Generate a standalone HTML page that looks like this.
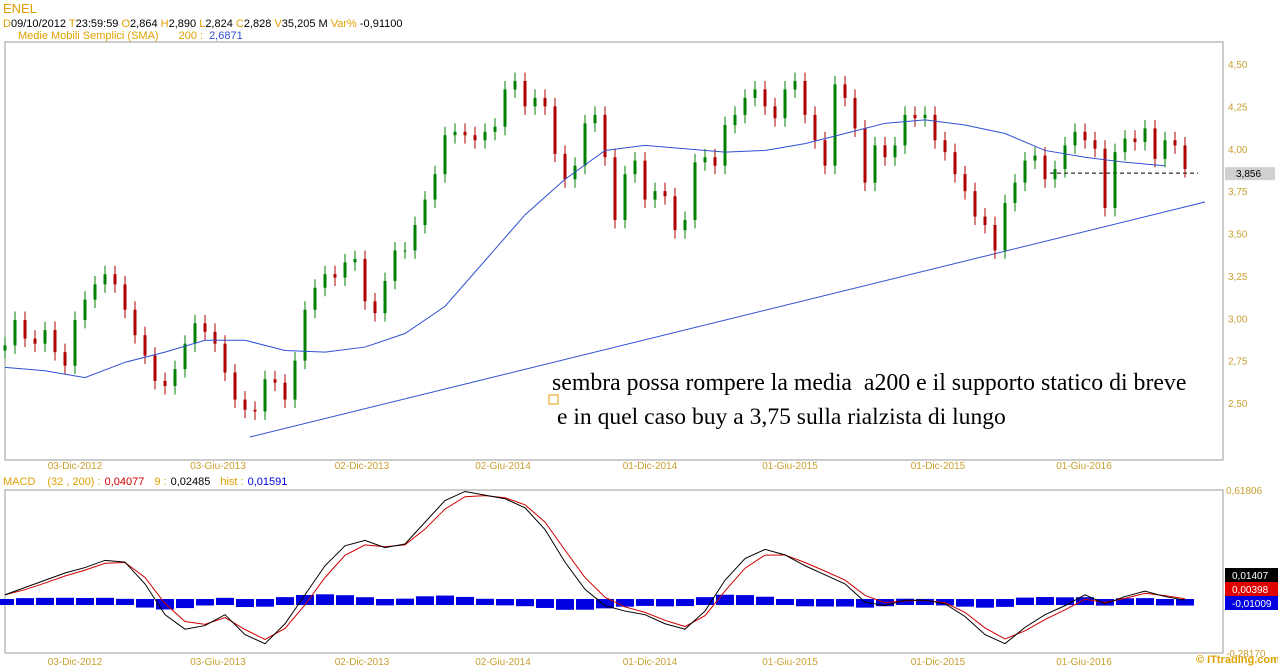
<!DOCTYPE html>
<html><head><meta charset="utf-8">
<style>
body{margin:0;background:#fff;width:1278px;height:668px;overflow:hidden;font-family:"Liberation Sans",sans-serif}
svg{display:block}
</style></head><body>
<svg width="1278" height="668">
<g font-size="11" font-family="Liberation Sans, sans-serif">
<text x="3" y="13" fill="#e0a000" font-size="13">ENEL</text>
<text x="3" y="27"><tspan fill="#e0a000">D</tspan><tspan fill="#000">09/10/2012 </tspan><tspan fill="#e0a000">T</tspan><tspan fill="#000">23:59:59 </tspan><tspan fill="#e0a000"> O</tspan><tspan fill="#000">2,864 </tspan><tspan fill="#e0a000"> H</tspan><tspan fill="#000">2,890 </tspan><tspan fill="#e0a000"> L</tspan><tspan fill="#000">2,824 </tspan><tspan fill="#e0a000"> C</tspan><tspan fill="#000">2,828 </tspan><tspan fill="#e0a000"> V</tspan><tspan fill="#000">35,205 M </tspan><tspan fill="#e0a000"> Var% </tspan><tspan fill="#000">-0,91100</tspan></text>
<text x="18" y="39" fill="#e0a000">Medie Mobili Semplici (SMA)<tspan dx="20">200 :</tspan><tspan fill="#3050d0" dx="6">2,6871</tspan></text>
<text x="3" y="485"><tspan fill="#e0a000">MACD</tspan><tspan fill="#e0a000" dx="12">(32 , 200) :</tspan><tspan fill="#d00000" dx="4">0,04077</tspan><tspan fill="#e0a000" dx="10">9 :</tspan><tspan fill="#000" dx="4">0,02485</tspan><tspan fill="#e0a000" dx="10">hist :</tspan><tspan fill="#0000e0" dx="4">0,01591</tspan></text>
</g>
<rect x="5" y="42" width="1218" height="418" fill="#fff" stroke="#999"/>
<rect x="5" y="490" width="1218" height="163" fill="#fff" stroke="#999"/>
<g id="price"></g>
<g id="macd"></g>
<g id="labels" font-size="10" fill="#c8a030" font-family="Liberation Sans, sans-serif"></g>
<text x="552" y="390" font-family="Liberation Serif, serif" font-size="23.8" fill="#000" xml:space="preserve">sembra possa rompere la media  a200 e il supporto statico di breve</text>
<rect x="549" y="395" width="9" height="9" fill="none" stroke="#e0a000"/>
<text x="557" y="424" font-family="Liberation Serif, serif" font-size="23.6" fill="#000">e in quel caso buy a 3,75 sulla rialzista di lungo</text>
<text x="1196" y="663" font-size="11" font-weight="bold" fill="#e0a000">© ITtrading.com</text>
</svg>
<script>
const closes=[2.84,2.99,2.88,2.85,2.93,2.80,2.72,2.99,3.11,3.20,3.26,3.20,3.05,2.90,2.78,2.63,2.60,2.70,2.85,2.97,2.92,2.85,2.68,2.52,2.46,2.45,2.64,2.62,2.52,2.75,3.05,3.18,3.26,3.24,3.33,3.35,3.10,3.03,3.22,3.40,3.40,3.55,3.70,3.85,4.08,4.10,4.08,4.05,4.10,4.13,4.35,4.40,4.25,4.30,4.25,3.97,3.82,3.90,4.15,4.20,3.95,3.58,3.85,3.93,3.70,3.75,3.72,3.52,3.58,3.92,3.95,3.90,4.14,4.20,4.30,4.35,4.25,4.18,4.35,4.40,4.20,4.05,3.90,4.38,4.30,4.12,3.80,4.02,3.95,4.02,4.20,4.18,4.20,4.05,3.98,3.85,3.75,3.60,3.55,3.40,3.68,3.80,3.93,3.96,3.82,3.88,4.02,4.10,4.05,4.00,3.65,3.98,4.06,4.04,4.12,3.94,4.05,4.02,3.88];
const sma200=[2.71,2.69,2.65,2.74,2.80,2.87,2.87,2.81,2.80,2.83,2.91,3.07,3.34,3.61,3.82,3.99,4.02,4.00,3.98,3.99,4.03,4.09,4.15,4.17,4.14,4.09,3.99,3.95,3.92,3.90];
const macdLine=[0.04,0.08,0.12,0.16,0.19,0.23,0.22,0.10,-0.07,-0.15,-0.13,-0.07,-0.18,-0.23,-0.12,0.04,0.20,0.31,0.34,0.30,0.32,0.44,0.56,0.61,0.59,0.57,0.52,0.40,0.22,0.07,-0.02,-0.05,-0.07,-0.12,-0.15,-0.05,0.12,0.24,0.29,0.26,0.20,0.15,0.10,0.00,-0.02,0.01,0.01,-0.01,-0.08,-0.18,-0.23,-0.14,-0.07,-0.02,0.04,-0.01,0.03,0.06,0.03,0.01];
const priceTicks=[4.5,4.25,4.0,3.75,3.5,3.25,3.0,2.75,2.5];
const priceTickLabels=["4,50","4,25","4,00","3,75","3,50","3,25","3,00","2,75","2,50"];
const dateLabels=["03-Dic-2012","03-Giu-2013","02-Dic-2013","02-Giu-2014","01-Dic-2014","01-Giu-2015","01-Dic-2015","01-Giu-2016"];
const dateIdx=[7,21.3,35.7,49.8,64.5,78.5,93.3,107.9];
const NS="http://www.w3.org/2000/svg";
function mk(p,t,a){const e=document.createElementNS(NS,t);for(const k in a)e.setAttribute(k,a[k]);p.appendChild(e);return e;}
const yP=v=>64+(4.5-v)*169.5;
const xI=i=>5+i*10;
const yM=v=>602-v*181.2;
const gp=document.getElementById('price'),gm=document.getElementById('macd'),gl=document.getElementById('labels');
let e=mk(gp,'line',{x1:250,y1:437,x2:1205,y2:202,stroke:'#3050d0','stroke-width':1});

e=mk(gp,'line',{x1:1050,y1:yP(3.856),x2:1198,y2:yP(3.856),stroke:'#000','stroke-dasharray':'4,3'});

closes.forEach((c,i)=>{
  const o=i?closes[i-1]:c-0.03;const up=c>=o;const col=up?'#008000':'#b00000';
  const hi=Math.max(o,c)+0.05,lo=Math.min(o,c)-0.05,x=xI(i);
  let w=mk(gp,'line',{x1:x,y1:yP(hi),x2:x,y2:yP(lo),stroke:col});
  
  let b=mk(gp,'rect',{x:x-1.5,y:yP(Math.max(o,c)),width:3,height:Math.max(1,Math.abs(yP(o)-yP(c))),fill:col});
  
});
let sp=mk(gp,'polyline',{points:sma200.map((v,i)=>(5+i*40)+','+yP(v)).join(' '),fill:'none',stroke:'#3050d0','stroke-width':1});

priceTicks.forEach((v,i)=>{let t=mk(gl,'text',{x:1228,y:yP(v)+4});t.textContent=priceTickLabels[i];
});
let pb=mk(gl,'rect',{x:1225,y:yP(3.856)-6,width:50,height:13,fill:'#d0d0d0'});

let pt=mk(gl,'text',{x:1236,y:yP(3.856)+4,fill:'#000'});pt.textContent='3,856';

dateLabels.forEach((d,i)=>{[469,665].forEach(y=>{let t=mk(gl,'text',{x:xI(dateIdx[i]),y:y,'text-anchor':'middle'});t.textContent=d;
});});
const sig=[];let s=macdLine[0];macdLine.forEach((v,i)=>{s=s+(v-s)*0.7;sig.push(s);});
const xm=i=>5+i*20;
macdLine.forEach((v,i)=>{const h=(v-sig[i]);const y0=yM(0),y1=yM(h*0.4);
let r=mk(gm,'rect',{x:xm(i)-9,y:Math.min(y0,y1)-3,width:18,height:Math.abs(y1-y0)+6,fill:'#0000e0'});
});
let sl=mk(gm,'polyline',{points:sig.map((v,i)=>xm(i)+','+yM(v)).join(' '),fill:'none',stroke:'#d00000','stroke-width':1});

let ml=mk(gm,'polyline',{points:macdLine.map((v,i)=>xm(i)+','+yM(v)).join(' '),fill:'none',stroke:'#000','stroke-width':1});

[[0.61806,'0,61806'],[-0.2817,'-0,28170']].forEach(a=>{let t=mk(gl,'text',{x:1226,y:yM(a[0])+4});t.textContent=a[1];
});
[['#000','0,01407',568],['#e00000','0,00398',582],['#0000e0','-0,01009',596]].forEach(a=>{
let r=mk(gl,'rect',{x:1225,y:a[2],width:53,height:14,fill:a[0]});
let t=mk(gl,'text',{x:1232,y:a[2]+11,fill:'#fff'});t.textContent=a[1];});
</script>
</body></html>
